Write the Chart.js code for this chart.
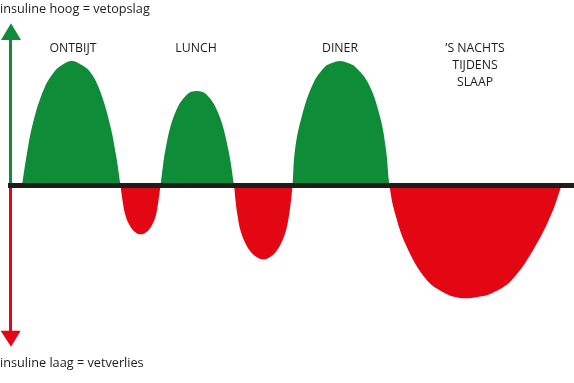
<!DOCTYPE html>
<html>
<head>
<meta charset="utf-8">
<script src="https://cdn.jsdelivr.net/npm/chart.js@4/dist/chart.umd.min.js"></script>
<style>
  html, body { margin: 0; padding: 0; background: #ffffff; }
  #wrap { width: 574px; height: 383px; }
</style>
</head>
<body>
<div id="wrap"><canvas id="c" width="574" height="383"></canvas></div>
<script>
// Insulin level over the day (arbitrary units; 0 = neutral)
const ontbijtTijd   = [22, 26.7, 33.3, 44.3, 54.3, 62, 71.7, 81.7, 90, 99, 109.3, 116];
const ontbijtNiveau = [0, 30.5, 63.8, 97.2, 113.8, 120.5, 124.5, 120.5, 113.8, 97.2, 63.8, 30.5];
const dip1Tijd      = [120.5, 122.5, 125.5, 130, 135, 140.7, 146.5, 151.5, 155.8, 158.5];
const dip1Niveau    = [0, -15, -30, -40.5, -46.5, -48.8, -46.5, -40.5, -30, -15];
const lunchTijd     = [160.5, 166, 175, 187, 196.7, 206.5, 218.3, 227.7];
const lunchNiveau   = [0, 38.8, 72.2, 91, 94.5, 91, 72.2, 38.8];
const dip2Tijd      = [234, 235.5, 237.5, 240.5, 245, 250.5, 256.5, 263.3, 270, 276, 281.5, 286, 289, 291];
const dip2Niveau    = [0, -15, -30, -45, -57, -66, -71.5, -73.8, -71.5, -66, -57, -45, -30, -15];
const dinerTijd     = [292.5, 295, 301.7, 313.3, 325, 332, 340, 348, 355, 368.3, 380, 386];
const dinerNiveau   = [0, 35.5, 68.8, 102.2, 118.8, 122.5, 124.5, 122.5, 118.8, 102.2, 68.8, 35.5];
const nachtTijd     = [389.5, 395, 406.7, 426.7, 445, 455, 465, 478, 491.7, 511.7, 535, 551.7, 561.5];
const nachtNiveau   = [0, -27.8, -61.2, -94.5, -107.8, -111.5, -112.8, -111.5, -107.8, -94.5, -61.2, -27.8, 0];

const maaltijdLabels = [["ONTBIJT"], ["LUNCH"], ["DINER"], ["\u2019S NACHTS", "TIJDENS", "SLAAP"]];
const maaltijdTijd   = [73, 196, 340, 475];
const asLabelBoven = "insuline hoog = vetopslag";
const asLabelOnder = "insuline laag = vetverlies";

const tijd = [].concat(ontbijtTijd, dip1Tijd, lunchTijd, dip2Tijd, dinerTijd, nachtTijd);
const niveau = [].concat(ontbijtNiveau, dip1Niveau, lunchNiveau, dip2Niveau, dinerNiveau, nachtNiveau);
const curve = tijd.map((t, i) => ({ x: t, y: niveau[i] }));

const GREEN = '#0e8c37';
const RED = '#e30613';
const BLACK = '#1d1d1b';
const TEXT = '#1d1d1b';

const textPlugin = {
  id: 'texts',
  afterDraw(chart) {
    const ctx = chart.ctx;
    const xs = chart.scales.x;
    ctx.save();
    ctx.fillStyle = TEXT;
    ctx.textBaseline = 'alphabetic';
    ctx.font = '12.7px "Open Sans"';
    ctx.textAlign = 'left';
    ctx.fillText(asLabelBoven, 0, 13);
    ctx.fillText(asLabelOnder, 0, 367);
    ctx.font = '12.3px "Open Sans"';
    ctx.textAlign = 'center';
    maaltijdLabels.forEach((lines, i) => {
      const px = xs.getPixelForValue(maaltijdTijd[i]);
      lines.forEach((l, j) => ctx.fillText(l, px, 52 + j * 17));
    });
    ctx.restore();
  }
};

new Chart(document.getElementById('c'), {
  type: 'line',
  data: {
    datasets: [
      { // horizontal axis
        data: [{x: 8, y: 0}, {x: 574, y: 0}],
        borderColor: BLACK, borderWidth: 5, pointRadius: 0, fill: false, order: 0, tension: 0
      },
      { // green shaft
        data: [{x: 10.5, y: 0}, {x: 10.5, y: 146}],
        borderColor: GREEN, borderWidth: 3, pointRadius: 0, fill: false, order: 1, tension: 0
      },
      { // green head
        data: [{x: 1, y: 145.5}, {x: 11, y: 162.2}, {x: 21, y: 145.5}],
        borderWidth: 0, borderColor: 'rgba(0,0,0,0)', pointRadius: 0, tension: 0, order: 1,
        fill: { target: { value: 145.5 }, above: GREEN, below: GREEN }
      },
      { // red shaft
        data: [{x: 10.5, y: 0}, {x: 10.5, y: -146}],
        borderColor: RED, borderWidth: 3, pointRadius: 0, fill: false, order: 1, tension: 0
      },
      { // red head
        data: [{x: 0.7, y: -145.2}, {x: 11, y: -161.2}, {x: 20.7, y: -145.2}],
        borderWidth: 0, borderColor: 'rgba(0,0,0,0)', pointRadius: 0, tension: 0, order: 1,
        fill: { target: { value: -145.2 }, above: RED, below: RED }
      },
      { // insulin curve
        data: curve,
        borderWidth: 0, borderColor: 'rgba(0,0,0,0)', pointRadius: 0,
        tension: 0.4, order: 2,
        fill: { target: { value: 0 }, above: GREEN, below: RED }
      }
    ]
  },
  options: {
    responsive: false,
    animation: false,
    layout: { padding: 0 },
    scales: {
      x: { type: 'linear', min: 0, max: 574, display: false },
      y: { type: 'linear', min: -197.5, max: 185.5, display: false }
    },
    plugins: { legend: { display: false }, tooltip: { enabled: false }, title: { display: false } },
    elements: { line: { capBezierPoints: true } }
  },
  plugins: [textPlugin]
});
</script>
</body>
</html>
